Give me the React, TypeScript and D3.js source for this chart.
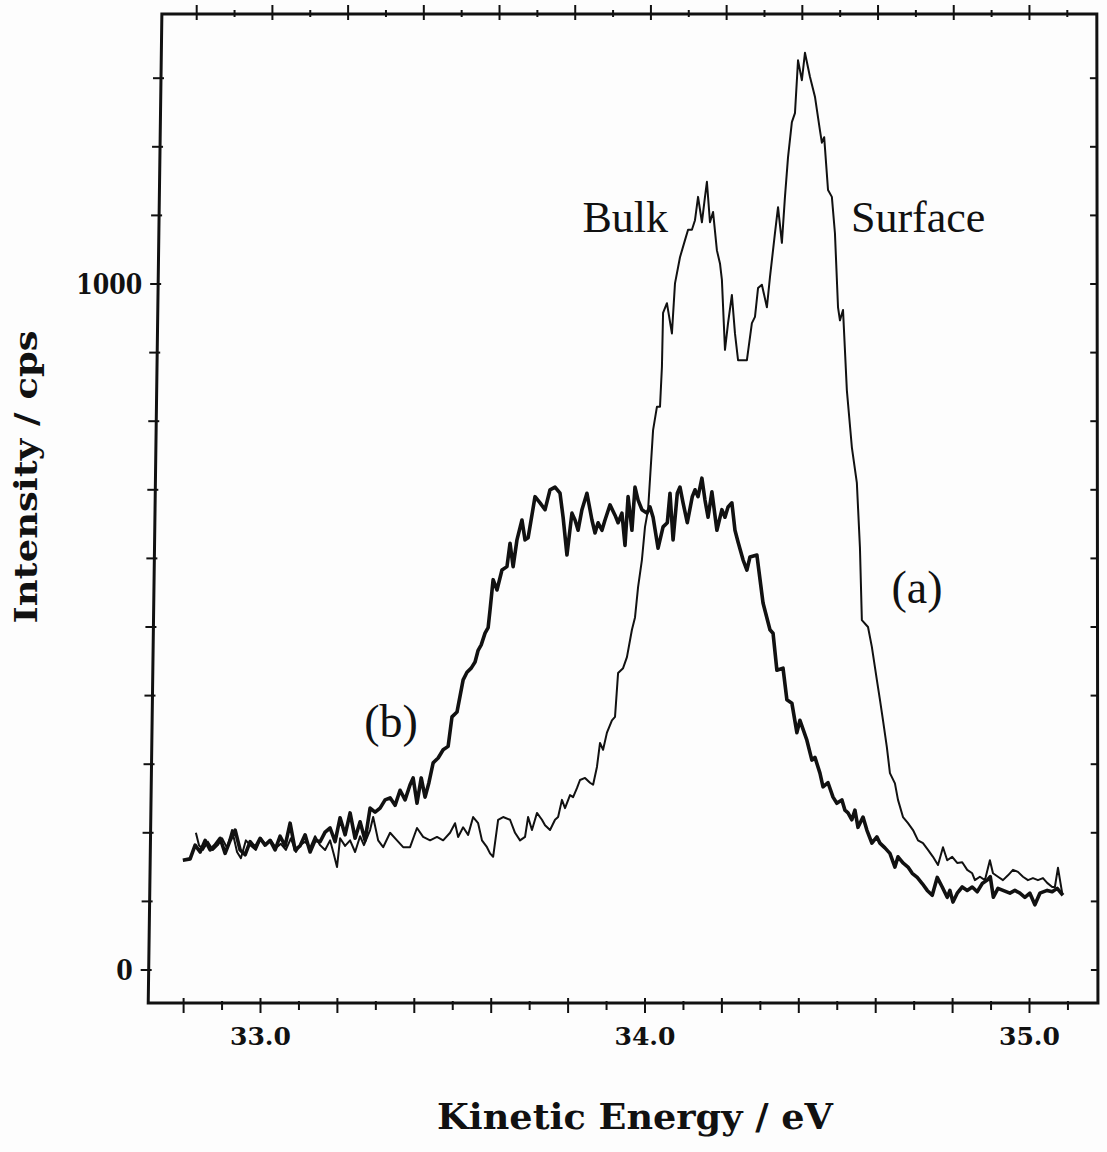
import React from 'react';
import * as d3 from 'd3';

// Spectrum (a): thin line
const energyA = [32.832,32.840,32.850,32.863,32.876,32.889,32.900,32.913,32.926,32.939,
32.949,32.962,32.975,32.988,33.001,33.014,33.027,33.040,33.053,33.066,
33.079,33.092,33.103,33.116,33.129,33.142,33.155,33.168,33.181,33.191,
33.199,33.207,33.220,33.233,33.246,33.259,33.269,33.285,33.293,33.306,
33.319,33.337,33.355,33.371,33.389,33.407,33.423,33.441,33.459,33.475,
33.493,33.506,33.514,33.527,33.540,33.553,33.566,33.576,33.589,33.597,
33.605,33.618,33.631,33.649,33.662,33.675,33.688,33.696,33.706,33.719,
33.732,33.740,33.753,33.766,33.774,33.784,33.792,33.805,33.813,33.823,
33.831,33.844,33.857,33.865,33.875,33.883,33.891,33.901,33.914,33.922,
33.930,33.943,33.953,33.966,33.974,33.982,33.992,34.000,34.008,34.021,
34.031,34.039,34.044,34.047,34.057,34.070,34.078,34.091,34.104,34.112,
34.122,34.130,34.138,34.148,34.156,34.161,34.169,34.177,34.187,34.195,
34.200,34.208,34.216,34.226,34.234,34.242,34.255,34.265,34.278,34.286,
34.294,34.304,34.317,34.325,34.338,34.346,34.356,34.364,34.372,34.382,
34.390,34.398,34.408,34.416,34.429,34.442,34.455,34.460,34.466,34.476,
34.486,34.494,34.502,34.507,34.515,34.525,34.538,34.551,34.559,34.564,
34.580,34.590,34.603,34.611,34.619,34.629,34.637,34.650,34.658,34.671,
34.684,34.697,34.710,34.723,34.736,34.749,34.762,34.775,34.786,34.799,
34.812,34.825,34.838,34.851,34.858,34.871,34.884,34.897,34.905,34.918,
34.931,34.944,34.957,34.970,34.983,34.996,35.009,35.022,35.035,35.046,
35.059,35.066,35.074,35.085];
const countsA = [200,182,175,187,175,182,192,178,204,172,
163,189,181,175,192,182,189,178,184,175,
192,172,182,187,178,195,182,175,189,168,
150,192,181,189,172,195,182,204,223,189,
179,200,189,179,179,207,194,189,194,189,
200,214,194,208,197,223,214,189,179,170,
165,219,223,219,200,189,194,223,204,229,
219,211,204,219,223,248,236,255,252,265,
277,280,273,270,296,331,321,346,364,369,
433,440,456,496,514,558,598,646,671,787,
821,821,879,958,972,928,1001,1039,1064,1079,
1079,1093,1127,1090,1127,1149,1090,1105,1049,1030,
1006,904,943,984,928,889,889,889,943,952,
994,999,966,1010,1074,1112,1060,1127,1185,1236,
1249,1326,1297,1337,1302,1273,1224,1206,1214,1137,
1127,1074,966,947,962,845,762,710,616,510,
500,471,423,394,364,325,287,272,248,223,
214,204,189,185,175,165,153,179,160,165,
156,157,146,141,131,136,131,160,141,136,
131,138,146,143,136,131,134,131,134,127,
121,121,149,112];

// Spectrum (b): thick line
const energyB = [32.798,32.817,32.830,32.843,32.856,32.869,32.882,32.895,32.908,32.921,
32.934,32.947,32.960,32.973,32.986,32.999,33.012,33.025,33.038,33.051,
33.064,33.077,33.090,33.103,33.116,33.129,33.142,33.155,33.168,33.181,
33.194,33.207,33.220,33.233,33.246,33.259,33.272,33.285,33.298,33.311,
33.324,33.337,33.350,33.363,33.376,33.389,33.397,33.407,33.418,33.428,
33.438,33.449,33.462,33.475,33.488,33.498,33.511,33.527,33.537,33.548,
33.558,33.566,33.574,33.584,33.592,33.597,33.605,33.615,33.628,33.641,
33.649,33.657,33.667,33.680,33.688,33.696,33.714,33.727,33.740,33.753,
33.766,33.779,33.787,33.797,33.810,33.818,33.826,33.836,33.849,33.862,
33.870,33.878,33.888,33.896,33.909,33.922,33.930,33.940,33.948,33.956,
33.966,33.974,33.982,33.992,34.005,34.013,34.021,34.034,34.047,34.058,
34.065,34.073,34.084,34.091,34.099,34.110,34.123,34.130,34.138,34.148,
34.156,34.164,34.174,34.187,34.200,34.208,34.216,34.226,34.234,34.242,
34.255,34.265,34.273,34.291,34.307,34.325,34.333,34.343,34.359,34.369,
34.382,34.395,34.403,34.421,34.434,34.442,34.455,34.463,34.476,34.489,
34.499,34.512,34.520,34.528,34.538,34.546,34.554,34.567,34.577,34.590,
34.603,34.611,34.624,34.637,34.650,34.658,34.671,34.684,34.695,34.708,
34.721,34.734,34.747,34.760,34.773,34.786,34.793,34.801,34.812,34.825,
34.838,34.851,34.864,34.877,34.890,34.898,34.906,34.918,34.931,34.949,
34.962,34.975,34.988,35.001,35.014,35.027,35.046,35.059,35.072,35.087];
const countsB = [160,162,182,172,189,175,182,192,170,189,
204,175,168,187,178,192,182,189,175,195,
181,214,175,181,197,172,189,187,201,207,
187,222,197,229,192,216,189,236,230,236,
248,251,240,262,248,270,280,243,280,252,
273,302,309,321,326,369,376,423,434,440,
449,466,474,491,499,525,569,554,583,588,
622,588,627,656,627,630,690,681,671,700,
704,695,660,605,666,656,641,671,695,656,
637,652,641,656,678,663,652,666,619,690,
641,704,685,671,666,675,660,615,646,652,
695,627,695,704,681,652,690,700,690,717,
685,660,697,641,671,660,675,681,641,624,
598,583,602,605,535,496,491,437,440,394,
389,346,364,335,306,310,287,267,273,252,
243,248,233,229,219,233,208,223,204,185,
194,185,178,170,150,165,156,150,141,135,
126,116,109,135,121,106,116,99,112,121,
116,121,114,126,131,136,106,119,116,112,
116,112,106,112,95,112,116,114,119,109];

const xTickLabelValues = [33, 34, 35];
const xTickLabels = ['33.0', '34.0', '35.0'];
const yTickLabelValues = [0, 1000];
const yTickLabels = ['0', '1000'];
const xAxisTitle = 'Kinetic Energy / eV';
const yAxisTitle = 'Intensity / cps';

const W = 1107;
const H = 1152;
const FRAME_BOTTOM = 1003;
const FRAME_TOP = 14;
const E_MIN = 32.708;
const E_MAX = 35.178;

export default function App() {
  const y = d3.scaleLinear().domain([0, 1000]).range([970, 284]);
  // the scanned page is slightly trapezoidal: bottom and top scales differ
  const xB = d3.scaleLinear().domain([33, 35]).range([260.5, 1029.5]);
  const xT = d3.scaleLinear().domain([32.8, 35.1]).range([196.7, 1067.3]);
  const xAt = (e: number, py: number) => {
    const t = (FRAME_BOTTOM - py) / (FRAME_BOTTOM - FRAME_TOP);
    return xB(e) + t * (xT(e) - xB(e));
  };

  const minorTicks = d3.range(328, 352).map((v) => v / 10);
  const yTicks = d3.range(0, 1400, 100);

  const line = d3
    .line<[number, number]>()
    .x((d) => xB(d[0]))
    .y((d) => y(d[1]));

  const dataA: [number, number][] = energyA.map((e, i) => [e, countsA[i]]);
  const dataB: [number, number][] = energyB.map((e, i) => [e, countsB[i]]);

  const frame = [
    [xB(E_MIN), FRAME_BOTTOM],
    [xT(E_MIN), FRAME_TOP],
    [xT(E_MAX), FRAME_TOP],
    [xB(E_MAX), FRAME_BOTTOM],
  ];
  const framePath = 'M' + frame.map((p) => p.join(',')).join('L') + 'Z';

  const boldSerif = "'DejaVu Serif', serif";
  const romanSerif = "'Liberation Serif', 'Times New Roman', serif";

  return (
    <svg
      width={W}
      height={H}
      viewBox={`0 0 ${W} ${H}`}
      style={{ position: 'absolute', left: 0, top: 0, display: 'block' }}
    >
      <rect x={0} y={0} width={W} height={H} fill="#fdfdfd" />

      {/* curves */}
      <path d={line(dataA) || ''} fill="none" stroke="#111" strokeWidth={2} strokeLinejoin="round" />
      <path d={line(dataB) || ''} fill="none" stroke="#111" strokeWidth={3.6} strokeLinejoin="round" />

      {/* frame */}
      <path d={framePath} fill="none" stroke="#111" strokeWidth={3} strokeLinejoin="miter" />

      {/* bottom ticks */}
      {minorTicks.map((e) => {
        const major = Math.round(e * 10) % 2 === 0;
        const px = xB(e);
        return (
          <line key={'b' + e} x1={px} x2={px} y1={FRAME_BOTTOM - (major ? 5 : 2)} y2={FRAME_BOTTOM + (major ? 10 : 7)} stroke="#111" strokeWidth={2} />
        );
      })}
      {/* top ticks */}
      {minorTicks.map((e) => {
        const major = Math.round(e * 10) % 2 === 0;
        const px = xT(e);
        return (
          <line key={'t' + e} x1={px} x2={px} y1={FRAME_TOP - (major ? 9 : 4)} y2={FRAME_TOP + (major ? 6 : 3)} stroke="#111" strokeWidth={2} />
        );
      })}
      {/* left and right ticks */}
      {yTicks.map((v) => {
        const py = y(v);
        const lx = xAt(E_MIN, py);
        const rx = xAt(E_MAX, py);
        return (
          <g key={'y' + v}>
            <line x1={lx - 8} x2={lx + 3} y1={py} y2={py} stroke="#111" strokeWidth={2} />
            <line x1={rx - 7} x2={rx} y1={py} y2={py} stroke="#111" strokeWidth={2} />
          </g>
        );
      })}

      {/* x tick labels */}
      {xTickLabelValues.map((v, i) => (
        <text key={'xl' + v} x={xB(v)} y={1045} textAnchor="middle" fontFamily={boldSerif} fontWeight="bold" fontSize={25} textLength={61} lengthAdjust="spacingAndGlyphs" fill="#111">
          {xTickLabels[i]}
        </text>
      ))}
      {/* y tick labels */}
      {yTickLabelValues.map((v, i) => {
        const py = y(v);
        const lx = xAt(E_MIN, py);
        return (
          <text key={'yl' + v} x={lx - 16} y={py + 10} textAnchor="end" fontFamily={boldSerif} fontWeight="bold" fontSize={27} textLength={16.5 * yTickLabels[i].length} lengthAdjust="spacingAndGlyphs" fill="#111">
            {yTickLabels[i]}
          </text>
        );
      })}

      {/* axis titles */}
      <text x={635} y={1129} textAnchor="middle" fontFamily={boldSerif} fontWeight="bold" fontSize={36} textLength={396} lengthAdjust="spacingAndGlyphs" fill="#111">
        {xAxisTitle}
      </text>
      <text transform="translate(37,477) rotate(-90)" textAnchor="middle" fontFamily={boldSerif} fontWeight="bold" fontSize={32} textLength={293} lengthAdjust="spacingAndGlyphs" fill="#111">
        {yAxisTitle}
      </text>

      {/* annotations */}
      <text x={668} y={232} textAnchor="end" fontFamily={romanSerif} fontSize={44} fill="#111">Bulk</text>
      <text x={851} y={232} textAnchor="start" fontFamily={romanSerif} fontSize={44} fill="#111">Surface</text>
      <text x={917} y={603} textAnchor="middle" fontFamily={romanSerif} fontSize={46} fill="#111">(a)</text>
      <text x={391} y={737} textAnchor="middle" fontFamily={romanSerif} fontSize={46} fill="#111">(b)</text>
    </svg>
  );
}
